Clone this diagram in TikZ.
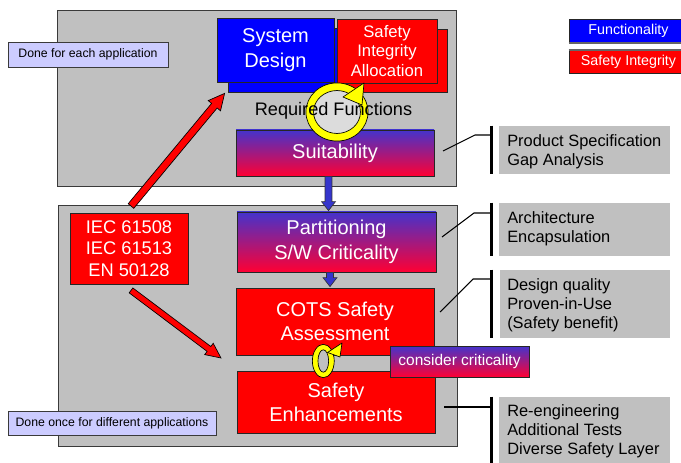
\documentclass[tikz,border=0pt]{standalone}
\usepackage{fontspec}
\setmainfont{Liberation Sans}
\usetikzlibrary{calc}

\definecolor{panelgray}{HTML}{C0C0C0}
\definecolor{edgegray}{HTML}{3A3A3A}
\definecolor{notefill}{HTML}{CCCCFF}
\definecolor{funcblue}{HTML}{0000FF}
\definecolor{safered}{HTML}{FF0000}
\definecolor{gradtop}{HTML}{4433CC}
\definecolor{gradbot}{HTML}{FF0033}
\definecolor{arrowblue}{HTML}{3535CC}
\definecolor{ringinside}{HTML}{DCDCDC}
\definecolor{ringyellow}{HTML}{FFFF00}

% rectangle node spanning (x1,y1)-(x2,y2): name, x1, y1, x2, y2, style, text
\newcommand\boxnode[7]{%
  \node[#6, minimum width={(#4-#2)*0.75pt}, minimum height={(#5-#3)*0.75pt}]
    (#1) at ({(#2+#4)/2},{(#3+#5)/2}) {#7};
}

% block arrow: tail, tip, shaft half-width, head half-width, head length, style
\newcommand\fatarrow[6]{%
  \coordinate (fa-neck) at ($(#2)!#5!(#1)$);
  \draw[#6] ($(#1)!#3!90:(#2)$) -- ($(fa-neck)!#3!90:(#2)$) --
    ($(fa-neck)!#4!90:(#2)$) -- (#2) -- ($(fa-neck)!#4!-90:(#2)$) --
    ($(fa-neck)!#3!-90:(#2)$) -- ($(#1)!#3!-90:(#2)$) -- cycle;
}

\tikzset{
  panel/.style={fill=panelgray, draw=edgegray, line width=0.7pt, inner sep=0pt},
  notebox/.style={fill=notefill, draw=edgegray, line width=0.7pt, inner sep=0pt,
    font=\fontsize{9.2}{11}\selectfont},
  bluebox/.style={fill=funcblue, draw=black!85, line width=0.6pt, text=white,
    align=center, inner sep=0pt},
  redbox/.style={fill=safered, draw=black!85, line width=0.6pt, text=white,
    align=center, inner sep=0pt},
  gradbox/.style={top color=gradtop, bottom color=gradbot, draw=black!85,
    line width=0.6pt, text=white, align=center, inner sep=0pt},
  legendbox/.style={draw=black!85, line width=0.6pt, inner sep=0pt, text=white,
    font=\fontsize{10.7}{13}\selectfont},
  infobox/.style={fill=panelgray, inner sep=0pt},
  infotext/.style={anchor=west, align=left, inner sep=0pt,
    font=\fontsize{12.3}{14.25}\selectfont},
  bar/.style={line width=2.2pt, black},
  lead/.style={line width=0.8pt, black},
  redarrow/.style={fill=safered, draw=black, line width=0.5pt},
  bluearrow/.style={fill=arrowblue, draw=black!80, line width=0.5pt},
  ring/.style={fill=ringyellow, draw=black, line width=0.5pt, even odd rule},
  bigtext/.style={font=\fontsize{15}{18.75}\selectfont},
}

\begin{document}
\begin{tikzpicture}[x=0.75pt, y=-0.75pt]
\useasboundingbox (0,0) rectangle (681,463);

% ---- the two process panels
\boxnode{toppanel}{57}{10}{456}{186}{panel}{}
\boxnode{botpanel}{58}{205}{457}{446}{panel}{}

\boxnode{notetop}{8}{42}{168}{67}{notebox}{Done for each application}
\boxnode{notebot}{8}{411}{216}{435}{notebox}{Done once for different applications}

% ---- legend
\boxnode{legfunc}{569}{19}{688}{43}{legendbox, fill=funcblue}{Functionality}
\draw[line width=1.5pt, black!60] (legfunc.south west) -- (legfunc.south east);
\boxnode{legsafe}{569}{50}{688}{73}{legendbox, fill=safered}{Safety Integrity}
\draw[line width=1.5pt, black!60] (legsafe.north west) -- (legsafe.north east);

% ---- system design and allocation, each with its shadow
\boxnode{sdshadow}{228}{28}{345}{92}{bluebox}{}
\boxnode{sashadow}{347}{29}{447}{92}{redbox}{}
\boxnode{sysdesign}{217}{18}{334}{82}{bluebox, bigtext}{System\\Design}
\boxnode{allocation}{337}{19}{437}{83}{redbox, font=\fontsize{12.5}{14.6}\selectfont}
  {Safety\\Integrity\\Allocation}

\boxnode{suit}{236}{130}{434}{176}{gradbox, bigtext}{Suitability}

% ---- iteration ring between design and allocation
\coordinate (ringA) at (337,112);
\fill[ringinside] (ringA) ellipse [x radius=17.6pt, y radius=16.1pt];
\path[ring] (ringA) ellipse [x radius=23.3pt, y radius=21.8pt]
            (ringA) ellipse [x radius=17.6pt, y radius=16.1pt];
\coordinate (headA1) at (343,97);
\coordinate (headA2) at (364,83);
\coordinate (headA3) at (362,105);
\draw[fill=ringyellow, draw=black, line width=0.5pt, line join=round]
  (headA1) -- (headA2) -- (headA3) -- cycle;

\node[font=\fontsize{13.6}{16}\selectfont, inner sep=0pt] (reqfun) at (333.5,111) {Required Functions};

% ---- lower panel
\boxnode{iec}{70}{213}{188}{284}{redbox, font=\fontsize{13.7}{16.1}\selectfont}
  {IEC 61508\\IEC 61513\\EN 50128}
\boxnode{part}{237}{212}{436}{272}{gradbox, bigtext}{Partitioning\\S/W Criticality}
\boxnode{cots}{236}{288}{434}{355}{redbox, font=\fontsize{15}{17.5}\selectfont}
  {COTS Safety\\Assessment}
\boxnode{enh}{237}{371}{435}{433}{redbox, font=\fontsize{15}{18}\selectfont}
  {Safety\\Enhancements}

% ---- iteration ring between assessment and enhancement
\coordinate (ringB) at (323.3,361);
\fill[panelgray] (ringB) ellipse [x radius=4pt, y radius=8.4pt];
\path[ring] (ringB) ellipse [x radius=8.2pt, y radius=12.5pt]
            (ringB) ellipse [x radius=4pt, y radius=8.4pt];
\coordinate (headB1) at (327.5,352.5);
\coordinate (headB2) at (342,343);
\coordinate (headB3) at (340,357);
\draw[fill=ringyellow, draw=black, line width=0.5pt, line join=round]
  (headB1) -- (headB2) -- (headB3) -- cycle;

\boxnode{crit}{390}{346}{529}{377}{gradbox, font=\fontsize{11.6}{13}\selectfont}
  {consider criticality}

% ---- flow arrows
\coordinate (b1tail) at ($(suit.south)+(-6.5,0)$);
\coordinate (b1tip) at ($(part.north)+(-8,-1)$);
\fatarrow{b1tail}{b1tip}{2.6pt}{5.25pt}{6.75pt}{bluearrow}
\coordinate (b2tail) at ($(part.south)+(-6.5,0)$);
\coordinate (b2tip) at ($(cots.north)+(-5,-1)$);
\fatarrow{b2tail}{b2tip}{2.6pt}{5.25pt}{6.75pt}{bluearrow}

\coordinate (r1tail) at (131,206);
\coordinate (r1tip) at ($(sdshadow.south west)+(-3,1)$);
\fatarrow{r1tail}{r1tip}{2.7pt}{6pt}{12pt}{redarrow}
\coordinate (r2tail) at ($(iec.south)+(2,6)$);
\coordinate (r2tip) at (221,358);
\fatarrow{r2tail}{r2tip}{2.3pt}{5.3pt}{11.3pt}{redarrow}

% ---- annotations on the right
\boxnode{specbox}{499}{126}{670}{174}{infobox}{}
\node[infotext] (spectext) at (507,151.5) {Product Specification\\Gap Analysis};
\draw[bar] (specbox.north west) ++(-7,0) coordinate (specbar1) -- (specbar1 |- specbox.south);
\coordinate (specfoot) at (443,151);
\draw[lead] (specfoot) -- (475,135) -- (specbar1 |- 0,135);

\boxnode{archbox}{499}{203}{670}{256}{infobox}{}
\node[infotext] (archtext) at (507,229) {Architecture\\Encapsulation};
\draw[bar] (archbox.north west) ++(-7,0) coordinate (archbar1) -- (archbar1 |- archbox.south);
\coordinate (archfoot) at (442,237);
\draw[lead] (archfoot) -- (474,213) -- (archbar1 |- 0,213);

\boxnode{qualbox}{500}{270}{670}{338}{infobox}{}
\node[infotext] (qualtext) at (507,305.5) {Design quality\\Proven-in-Use\\(Safety benefit)};
\draw[bar] (qualbox.north west) ++(-8,0) coordinate (qualbar1) -- (qualbar1 |- qualbox.south);
\coordinate (qualfoot) at (440,312);
\draw[lead] (qualfoot) -- (473,279) -- (qualbar1 |- 0,279);

\boxnode{reengbox}{499}{397}{670}{470}{infobox}{}
\node[infotext] (reengtext) at (507,431.5) {Re-engineering\\Additional Tests\\Diverse Safety Layer};
\draw[bar] (reengbox.north west) ++(-7,0) coordinate (reengbar1) -- (reengbar1 |- reengbox.south);
\coordinate (reengfoot) at (444,407);
\draw[lead] (reengfoot) -- (reengbar1 |- 0,407);
\end{tikzpicture}
\end{document}
